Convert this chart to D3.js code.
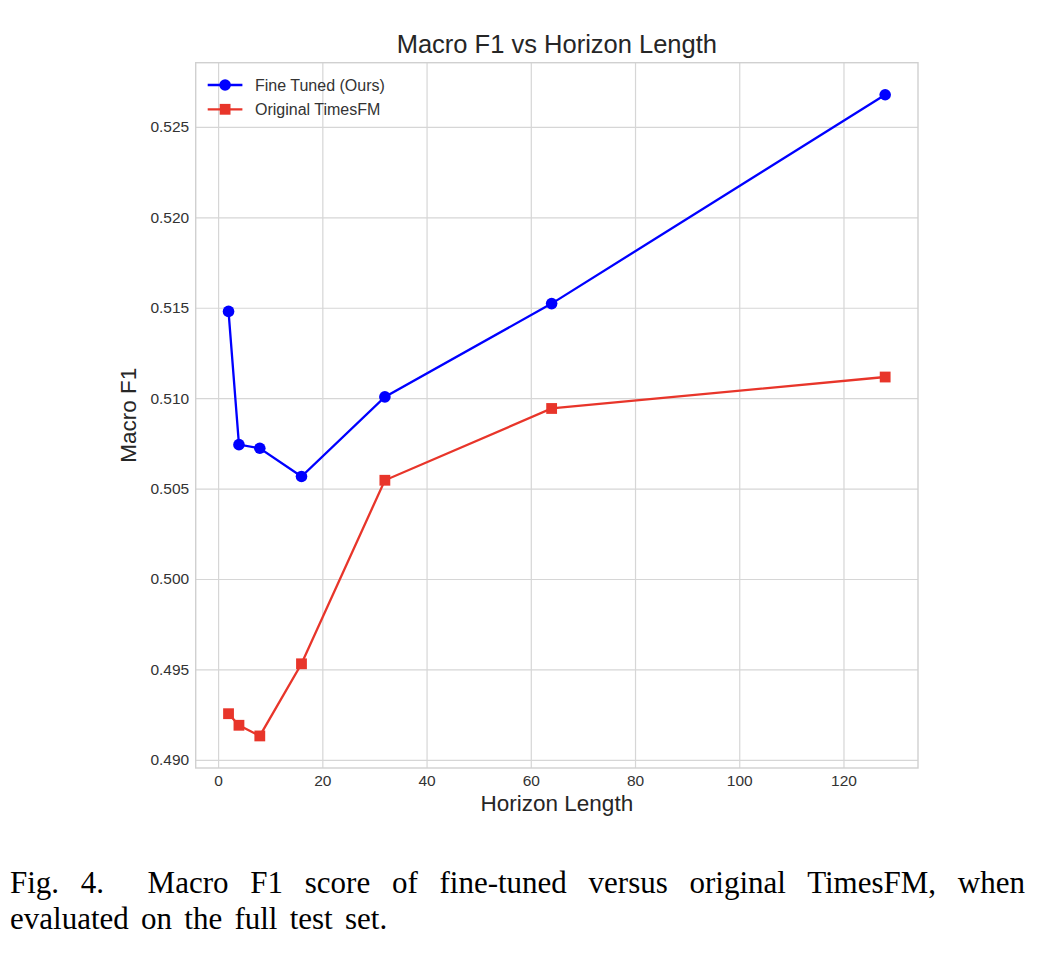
<!DOCTYPE html>
<html>
<head>
<meta charset="utf-8">
<script src="https://cdn.jsdelivr.net/npm/d3@7"></script>
<style>
  body { margin: 0; background: #fff; }
  #wrap { position: relative; width: 1063px; height: 969px; }
  .cap { position: absolute; left: 10px; width: 1015px; font-family: "Liberation Serif", "Times New Roman", serif;
         font-size: 31px; line-height: 36px; color: #000; white-space: nowrap; }
  #cap1 { top: 864.5px; text-align: justify; text-align-last: justify; }
  #cap2 { top: 900.5px; word-spacing: 4.5px; }
</style>
</head>
<body>
<div id="wrap">
  <div id="chart"></div>
  <div class="cap" id="cap1">Fig.&nbsp;4.&nbsp; Macro F1 score of fine-tuned versus original TimesFM, when</div>
  <div class="cap" id="cap2">evaluated on the full test set.</div>
</div>
<script>
const horizons = [2, 4, 8, 16, 32, 64, 128];
const fineTuned = [0.5148, 0.50743, 0.50723, 0.50567, 0.51007, 0.51523, 0.52678];
const original = [0.49255, 0.49191, 0.49132, 0.49531, 0.50546, 0.50943, 0.51117];
const xTicks = [0, 20, 40, 60, 80, 100, 120];
const yTicks = [0.490, 0.495, 0.500, 0.505, 0.510, 0.515, 0.520, 0.525];

const series = [
    { name: 'Fine Tuned (Ours)', values: fineTuned, color: '#0000ff', marker: 'circle' },
    { name: 'Original TimesFM', values: original, color: '#e8352a', marker: 'square' }
];

const svgWidth = 1063;
const svgHeight = 860;
const margin = { top: 62.7, right: 145, bottom: 92, left: 195.7 };
const width = 918 - margin.left;
const height = 768 - margin.top;
const font = '"Liberation Sans", Arial, sans-serif';

// matplotlib-like 5% padding around the data
function padded(vals) {
    const [lo, hi] = d3.extent(vals);
    const p = (hi - lo) * 0.05;
    return [lo - p, hi + p];
}

const svg = d3.select('#chart')
    .append('svg')
    .attr('width', svgWidth)
    .attr('height', svgHeight)
    .style('display', 'block')
    .append('g')
    .attr('transform', 'translate(' + margin.left + ',' + margin.top + ')');

const xScale = d3.scaleLinear()
    .domain(padded(horizons))
    .range([0, width]);

const yScale = d3.scaleLinear()
    .domain(padded(fineTuned.concat(original)))
    .range([height, 0]);

const gx = svg.append('g')
    .attr('transform', 'translate(0,' + height + ')')
    .call(d3.axisBottom(xScale).tickValues(xTicks).tickSize(-height).tickPadding(7).tickFormat(d3.format('d')));

const gy = svg.append('g')
    .call(d3.axisLeft(yScale).tickValues(yTicks).tickSize(-width).tickPadding(6.5).tickFormat(d3.format('.3f')));

[gx, gy].forEach(g => {
    g.select('.domain').remove();
    g.selectAll('.tick line').attr('stroke', '#d6d6d6').attr('stroke-width', 1.2);
    g.selectAll('.tick text')
        .attr('fill', '#333')
        .style('font-family', font)
        .style('font-size', '15.5px');
});

svg.append('rect')
    .attr('width', width)
    .attr('height', height)
    .attr('fill', 'none')
    .attr('stroke', '#d0d0d0')
    .attr('stroke-width', 1.4);

const line = d3.line()
    .x((d, i) => xScale(horizons[i]))
    .y(d => yScale(d));

series.forEach(s => {
    svg.append('path')
        .datum(s.values)
        .attr('fill', 'none')
        .attr('stroke', s.color)
        .attr('stroke-width', 2.3)
        .attr('d', line);

    if (s.marker === 'circle') {
        svg.selectAll('.pt-c')
            .data(s.values)
            .enter().append('circle')
            .attr('cx', (d, i) => xScale(horizons[i]))
            .attr('cy', d => yScale(d))
            .attr('r', 5.8)
            .attr('fill', s.color);
    } else {
        svg.selectAll('.pt-s')
            .data(s.values)
            .enter().append('rect')
            .attr('x', (d, i) => xScale(horizons[i]) - 5.4)
            .attr('y', d => yScale(d) - 5.4)
            .attr('width', 10.8)
            .attr('height', 10.8)
            .attr('fill', s.color);
    }
});

// legend (no frame, like seaborn whitegrid)
const legend = svg.append('g')
    .attr('transform', 'translate(12,22.3)');

series.forEach((s, i) => {
    const row = legend.append('g').attr('transform', 'translate(0,' + (i * 24.3) + ')');
    row.append('line')
        .attr('x1', 0).attr('x2', 34.7)
        .attr('stroke', s.color)
        .attr('stroke-width', 2.3);
    if (s.marker === 'circle') {
        row.append('circle').attr('cx', 17.4).attr('r', 5.8).attr('fill', s.color);
    } else {
        row.append('rect').attr('x', 12).attr('y', -5.4).attr('width', 10.8).attr('height', 10.8).attr('fill', s.color);
    }
    row.append('text')
        .attr('x', 47.3)
        .attr('dy', '0.35em')
        .attr('fill', '#333')
        .style('font-family', font)
        .style('font-size', '16px')
        .text(s.name);
});

svg.append('text')
    .attr('x', width / 2)
    .attr('y', 53 - margin.top)
    .attr('text-anchor', 'middle')
    .attr('fill', '#262626')
    .style('font-family', font)
    .style('font-size', '25.5px')
    .text('Macro F1 vs Horizon Length');

svg.append('text')
    .attr('x', width / 2)
    .attr('y', 811.5 - margin.top)
    .attr('text-anchor', 'middle')
    .attr('fill', '#262626')
    .style('font-family', font)
    .style('font-size', '22.5px')
    .text('Horizon Length');

svg.append('text')
    .attr('transform', 'translate(' + (136 - margin.left) + ',' + (height / 2) + ') rotate(-90)')
    .attr('text-anchor', 'middle')
    .attr('fill', '#262626')
    .style('font-family', font)
    .style('font-size', '22.5px')
    .text('Macro F1');
</script>
</body>
</html>
